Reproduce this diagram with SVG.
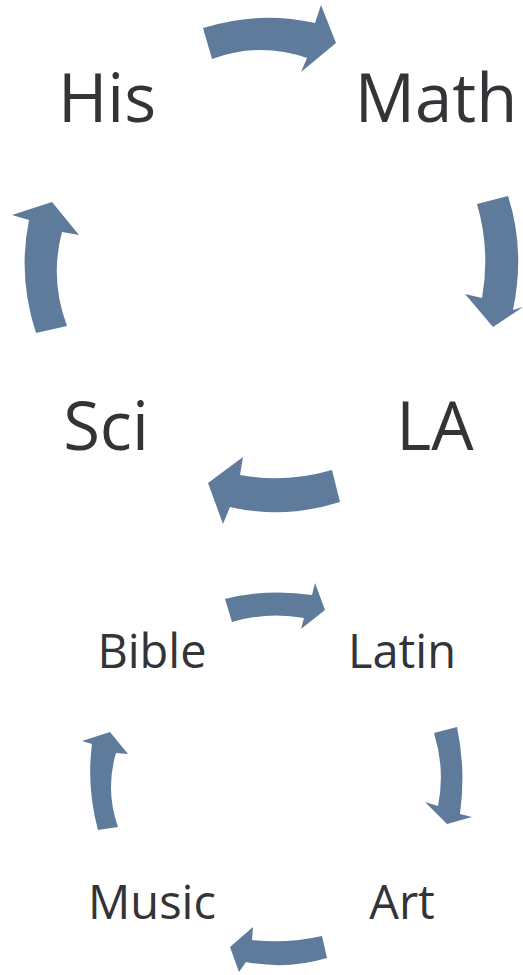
<svg xmlns="http://www.w3.org/2000/svg" width="523" height="975" viewBox="0 0 523 975">
<style>
.arrow{fill:#5f7b9c;stroke:none}
.big{font-family:"Open Sans","Liberation Sans",sans-serif;font-size:67px;fill:#333338;text-anchor:middle}
.small{font-family:"Open Sans","Liberation Sans",sans-serif;font-size:47px;fill:#333338;text-anchor:middle}
</style>
<rect width="523" height="975" fill="#ffffff"/>
<g id="connectors">
<path class="arrow" d="M203,28 Q258,10.5 315,23 L321,5 L336,43 L301,72 L307,58 Q260,41.5 212,59 Z"/>
<path class="arrow" d="M477,204 Q490.5,250 482,298 L465,294 L493,327 L523,307 L513,310 Q525.5,250 508,196 Z"/>
<path class="arrow" d="M332,470 Q285,483.5 240,475 L243,457 L208,483 L223,524 L230,507 Q285,519.5 340,502 Z"/>
<path class="arrow" d="M36,333 Q17.5,277 29,220 L12,215 L52,202 L79,235 L62,232 Q49.5,279 67,326 Z"/>
<path class="arrow" d="M225,599 Q268,588.4 312,595 L315,583 L325,610 L301,629 L304,618 Q268,611.4 232,622 Z"/>
<path class="arrow" d="M434,733 Q445.4,770 438,806 L425,802 L447,824 L472,817 L460,814 Q466.1,770 457,727 Z"/>
<path class="arrow" d="M322,936 Q287,944 252,940 L253,927 L230,947 L239,972 L246,962 Q287,970 327,958 Z"/>
<path class="arrow" d="M98,830 Q86.4,787 92,744 L82,741 L110,732 L128,754 L116,753 Q105,790 118,827 Z"/>
</g>
<g id="node-his"><text class="big" x="107" y="122">His</text></g>
<g id="node-math"><text class="big" x="436" y="122">Math</text></g>
<g id="node-la"><text class="big" x="435" y="450">LA</text></g>
<g id="node-sci"><text class="big" x="106" y="450">Sci</text></g>
<g id="node-bible"><text class="small" x="152" y="668">Bible</text></g>
<g id="node-latin"><text class="small" x="402" y="668">Latin</text></g>
<g id="node-art"><text class="small" x="402" y="919">Art</text></g>
<g id="node-music"><text class="small" x="152" y="919">Music</text></g>
</svg>
